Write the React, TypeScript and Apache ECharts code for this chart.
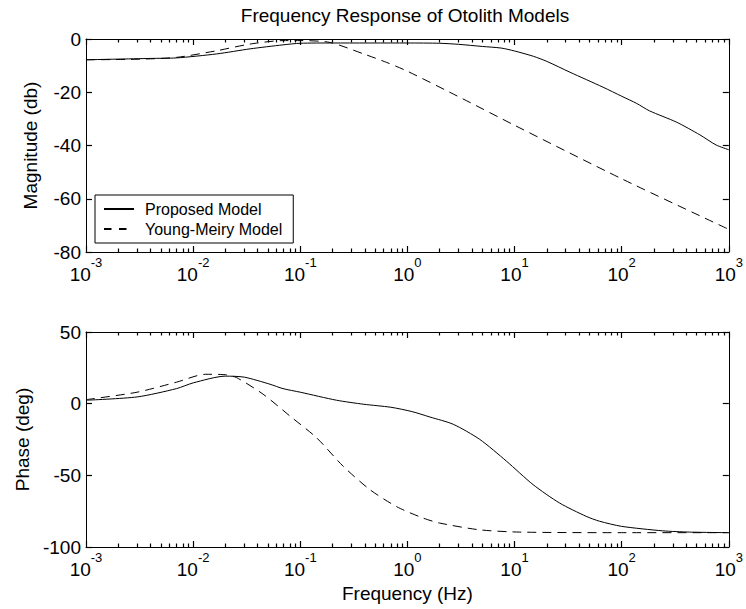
import React, { useEffect, useRef } from 'react';
import * as echarts from 'echarts';

// ---- data (frequency in Hz) ----
const magFreqProposed = [0.001, 0.004, 0.007, 0.0166, 0.034, 0.069, 0.1, 0.2, 1, 2, 3, 5, 7.5, 10, 15, 20, 33, 67, 100, 138, 182, 324, 537, 760, 1000];
const magProposed = [-7.8, -7.3, -7.1, -5.6, -3.7, -2.2, -1.6, -1.5, -1.5, -1.6, -2.0, -2.8, -3.4, -4.5, -6.5, -8.4, -12.5, -18.1, -21.5, -24.2, -27.0, -31.2, -36.0, -39.8, -41.6];

const magFreqYoung = [0.001, 0.003, 0.007, 0.0166, 0.034, 0.069, 0.1, 0.19, 0.39, 0.64, 1, 3.3, 10, 100, 1000];
const magYoung = [-7.8, -7.6, -6.9, -4.4, -1.9, -0.6, -0.6, -1.3, -5.6, -8.8, -12.1, -22.5, -32.4, -52.5, -71.5];

const phaseFreqProposed = [0.001, 0.003, 0.007, 0.01, 0.02, 0.03, 0.052, 0.069, 0.1, 0.218, 0.39, 0.7, 1.1, 1.62, 2.68, 4.73, 8.4, 14.9, 26.3, 46.6, 62, 100, 240, 430, 1000];
const phaseProposed = [2.4, 4.7, 10.5, 14.5, 19.2, 18.5, 13.6, 10.5, 8.0, 2.4, -0.4, -2.5, -5.5, -9.3, -14.4, -24.9, -40.1, -56.5, -69.3, -78.6, -82.0, -85.6, -88.7, -89.6, -90.0];

const phaseFreqYoung = [0.001, 0.003, 0.007, 0.013, 0.02, 0.0254, 0.045, 0.08, 0.142, 0.251, 0.447, 0.8, 1.4, 2.0, 4.7, 11.2, 100, 1000];
const phaseYoung = [2.8, 8.0, 15.0, 20.5, 20.2, 18.2, 6.6, -8.6, -23.8, -43.6, -60.0, -72.0, -79.8, -83.3, -88.0, -89.6, -90.0, -90.0];

const seriesNames = ['Proposed Model', 'Young-Meiry Model'];
const titleText = 'Frequency Response of Otolith Models';
const magLabel = 'Magnitude (db)';
const phaseLabel = 'Phase (deg)';
const freqLabel = 'Frequency (Hz)';
const freqMin = 0.001;
const freqMax = 1000;
const magRange = { min: -80, max: 0, interval: 20 };
const phaseRange = { min: -100, max: 50, interval: 50 };

const FONT = '"Liberation Sans", Arial, Helvetica, sans-serif';

function pairs(xs: number[], ys: number[]) {
  return xs.map((x, i) => [x, ys[i]]);
}

export default function App() {
  const ref = useRef<HTMLDivElement>(null);
  useEffect(() => {
    const chart = echarts.init(ref.current!, null, { renderer: 'svg' });

    const minorTicks: number[] = [];
    for (let e = -3; e < 3; e++) {
      for (let m = 2; m <= 9; m++) minorTicks.push(Number((m * Math.pow(10, e)).toPrecision(3)));
    }

    const black = '#000';
    const tickW = 1.2;
    const xAxesFor = (gi: number, withName: boolean) => {
      const base = {
        type: 'log' as const,
        logBase: 10,
        min: freqMin,
        max: freqMax,
        gridIndex: gi,
        splitLine: { show: false },
        minorTick: { show: false },
      };
      return [
        {
          ...base,
          position: 'bottom',
          axisLine: { show: true, onZero: false, lineStyle: { color: black, width: 1 } },
          axisTick: { show: true, inside: true, length: 6, lineStyle: { color: black, width: tickW } },
          axisLabel: {
            show: true,
            margin: 4,
            formatter: (v: number) => `{b|10}{s|${Math.round(Math.log10(v))}}`,
            rich: {
              b: { fontSize: 19, lineHeight: 36, color: black, fontFamily: FONT },
              s: { fontSize: 13, lineHeight: 14, verticalAlign: 'top', color: black, fontFamily: FONT },
            },
          },
          ...(withName
            ? {
                name: freqLabel,
                nameLocation: 'middle',
                nameGap: 37,
                nameTextStyle: { fontSize: 19, color: black, fontFamily: FONT, verticalAlign: 'top' },
              }
            : {}),
        },
        {
          ...base,
          position: 'bottom',
          axisLine: { show: false, onZero: false },
          axisTick: { show: true, inside: true, length: 3.5, customValues: minorTicks, lineStyle: { color: black, width: tickW } },
          axisLabel: { show: false },
        },
        {
          ...base,
          position: 'top',
          axisLine: { show: true, onZero: false, lineStyle: { color: black, width: 1 } },
          axisTick: { show: true, inside: true, length: 6, lineStyle: { color: black, width: tickW } },
          axisLabel: { show: false },
        },
        {
          ...base,
          position: 'top',
          axisLine: { show: false, onZero: false },
          axisTick: { show: true, inside: true, length: 3.5, customValues: minorTicks, lineStyle: { color: black, width: tickW } },
          axisLabel: { show: false },
        },
      ];
    };

    const yAxesFor = (gi: number, range: { min: number; max: number; interval: number }, name: string, gap: number) => [
      {
        type: 'value',
        gridIndex: gi,
        position: 'left',
        min: range.min,
        max: range.max,
        interval: range.interval,
        splitLine: { show: false },
        axisLine: { show: true, onZero: false, lineStyle: { color: black, width: 1 } },
        axisTick: { show: true, inside: true, length: 6, lineStyle: { color: black, width: tickW } },
        axisLabel: { show: true, margin: 5, fontSize: 19, color: black, fontFamily: FONT },
        name,
        nameLocation: 'middle',
        nameGap: gap,
        nameTextStyle: { fontSize: 19, color: black, fontFamily: FONT },
      },
      {
        type: 'value',
        gridIndex: gi,
        position: 'right',
        min: range.min,
        max: range.max,
        interval: range.interval,
        splitLine: { show: false },
        axisLine: { show: true, onZero: false, lineStyle: { color: black, width: 1 } },
        axisTick: { show: true, inside: true, length: 6, lineStyle: { color: black, width: tickW } },
        axisLabel: { show: false },
      },
    ];

    const solid = { color: black, width: 1, type: 'solid' as const };
    const dashed = { color: black, width: 1, type: [9, 6] as number[] };

    const mkSeries = (name: string, data: number[][], xi: number, yi: number, ls: any) => ({
      type: 'line',
      name,
      data,
      xAxisIndex: xi,
      yAxisIndex: yi,
      symbol: 'none',
      showSymbol: false,
      smooth: 0.25,
      clip: true,
      color: black,
      lineStyle: ls,
      emphasis: { disabled: true },
    });

    const option: any = {
      animation: false,
      backgroundColor: '#fff',
      textStyle: { fontFamily: FONT },
      title: {
        text: titleText,
        left: 405,
        textAlign: 'center',
        top: 6,
        padding: 0,
        textStyle: { fontSize: 19, fontWeight: 'normal', color: black, fontFamily: FONT },
      },
      legend: {
        data: [
          { name: seriesNames[0] },
          { name: seriesNames[1], lineStyle: { type: [7.5, 7.5] } },
        ],
        orient: 'vertical',
        left: 95,
        top: 195,
        padding: [6, 11, 6, 8],
        itemGap: 4,
        itemWidth: 30,
        itemHeight: 14,
        backgroundColor: '#fff',
        borderColor: black,
        borderWidth: 1,
        borderRadius: 0,
        selectedMode: false,
        itemStyle: { opacity: 0 },
        textStyle: { fontSize: 16, color: black, fontFamily: FONT, lineHeight: 16, padding: [0, 0, 0, 6] },
      },
      grid: [
        { left: 86, top: 39, width: 643, height: 213 },
        { left: 86, top: 332, width: 643, height: 215 },
      ],
      xAxis: [...xAxesFor(0, false), ...xAxesFor(1, true)],
      yAxis: [...yAxesFor(0, magRange, magLabel, 46), ...yAxesFor(1, phaseRange, phaseLabel, 54)],
      series: [
        mkSeries(seriesNames[0], pairs(magFreqProposed, magProposed), 0, 0, solid),
        mkSeries(seriesNames[1], pairs(magFreqYoung, magYoung), 0, 0, dashed),
        mkSeries(seriesNames[0], pairs(phaseFreqProposed, phaseProposed), 4, 2, solid),
        mkSeries(seriesNames[1], pairs(phaseFreqYoung, phaseYoung), 4, 2, dashed),
      ],
    };

    chart.setOption(option);
    return () => chart.dispose();
  }, []);

  return (
    <div
      ref={ref}
      style={{ position: 'fixed', left: 0, top: 0, width: 746, height: 609, background: '#fff' }}
    />
  );
}
